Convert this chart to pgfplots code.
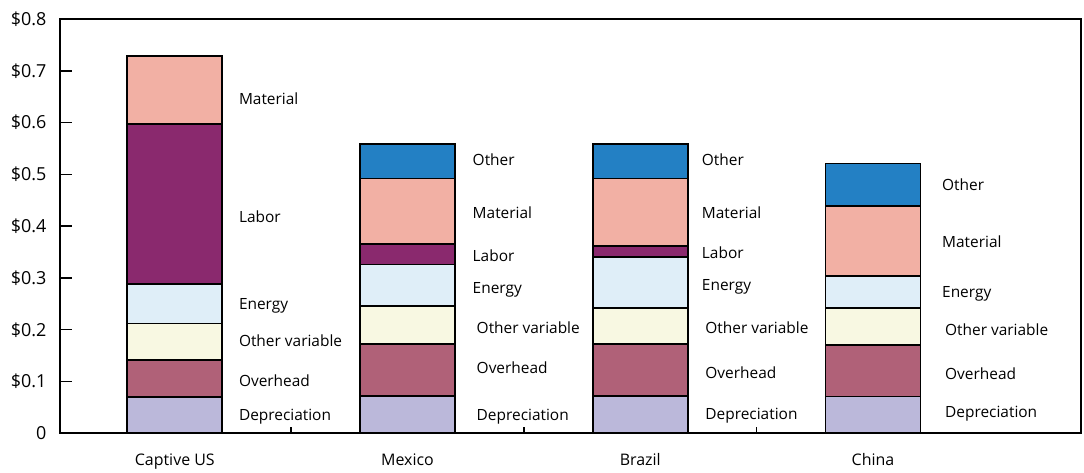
\documentclass[border=0pt]{standalone}
\usepackage{fontspec}
\setmainfont{Open Sans}
\usepackage{pgfplots}
\pgfplotsset{compat=1.18}

\definecolor{cdep}{HTML}{BBB8DA}
\definecolor{cover}{HTML}{B06178}
\definecolor{cvar}{HTML}{F8F8E2}
\definecolor{cenergy}{HTML}{DFEEF8}
\definecolor{clabor}{HTML}{8A296E}
\definecolor{cmat}{HTML}{F2B0A4}
\definecolor{cother}{HTML}{2380C4}

\tikzset{lbl/.style={anchor=west, inner sep=0pt, yshift=-2.5bp, font=\fontsize{15.5}{17}\selectfont}}

\begin{document}
\begin{tikzpicture}
  \begin{axis}[
    scale only axis,
    width=1021bp, height=414.3bp,
    ybar stacked, bar width=95bp,
    xmin=-0.4933, xmax=3.894,
    ymin=0, ymax=0.8,
    ytick={0,0.1,0.2,0.3,0.4,0.5,0.6,0.7,0.8},
    yticklabels={0,{\textdollar0.1},{\textdollar0.2},{\textdollar0.3},{\textdollar0.4},{\textdollar0.5},{\textdollar0.6},{\textdollar0.7},{\textdollar0.8}},
    yticklabel style={font=\fontsize{18}{20}\selectfont, xshift=-10bp},
    xtick={0,1,2,3},
    xticklabels={Captive US,Mexico,Brazil,China},
    xticklabel style={font=\fontsize{16}{18}\selectfont, yshift=-17bp},
    minor xtick={0.5,1.5,2.5},
    major x tick style={draw=none},
    tick align=inside, ytick pos=left, xtick pos=bottom,
    major tick length=12bp,
    minor tick length=6bp,
    tick style={black, line width=1.5pt},
    axis line style={line width=1.8pt},
    every axis plot/.append style={draw=black, line width=1.9pt},
    clip=false,
  ]
    % Depreciation, Overhead, Other variable, Energy, Labor, Material, Other
    \addplot[fill=cdep]    coordinates {(0,0.070) (1,0.072) (2,0.072) (3,0.071)};
    \addplot[fill=cover]   coordinates {(0,0.071) (1,0.100) (2,0.101) (3,0.099)};
    \addplot[fill=cvar]    coordinates {(0,0.071) (1,0.074) (2,0.069) (3,0.072)};
    \addplot[fill=cenergy] coordinates {(0,0.077) (1,0.080) (2,0.098) (3,0.062)};
    \addplot[fill=clabor]  coordinates {(0,0.309) (1,0.040) (2,0.021) (3,0.000)};
    \addplot[fill=cmat]    coordinates {(0,0.130) (1,0.126) (2,0.131) (3,0.135)};
    \addplot[fill=cother]  coordinates {(0,0.000) (1,0.067) (2,0.067) (3,0.082)};

    % Captive US
    \node[lbl, xshift=64bp] at (axis cs:0,0.651) {Material};
    \node[lbl, xshift=64bp] at (axis cs:0,0.4234) {Labor};
    \node[lbl, xshift=64bp] at (axis cs:0,0.2516) {Energy};
    \node[lbl, xshift=64bp] at (axis cs:0,0.184) {Other variable};
    \node[lbl, xshift=64bp] at (axis cs:0,0.1068) {Overhead};
    \node[lbl, xshift=64bp] at (axis cs:0,0.0373) {Depreciation};
    % Mexico
    \node[lbl, xshift=65bp] at (axis cs:1,0.534) {Other};
    \node[lbl, xshift=65bp] at (axis cs:1,0.4307) {Material};
    \node[lbl, xshift=65bp] at (axis cs:1,0.3476) {Labor};
    \node[lbl, xshift=65bp] at (axis cs:1,0.2819) {Energy};
    \node[lbl, xshift=69bp] at (axis cs:1,0.2091) {Other variable};
    \node[lbl, xshift=69bp] at (axis cs:1,0.1318) {Overhead};
    \node[lbl, xshift=69bp] at (axis cs:1,0.0367) {Depreciation};
    % Brazil
    \node[lbl, xshift=61.5bp] at (axis cs:2,0.534) {Other};
    \node[lbl, xshift=61.5bp] at (axis cs:2,0.4307) {Material};
    \node[lbl, xshift=61.5bp] at (axis cs:2,0.3540) {Labor};
    \node[lbl, xshift=61.5bp] at (axis cs:2,0.2883) {Energy};
    \node[lbl, xshift=65bp] at (axis cs:2,0.2091) {Other variable};
    \node[lbl, xshift=65bp] at (axis cs:2,0.1223) {Overhead};
    \node[lbl, xshift=65bp] at (axis cs:2,0.0392) {Depreciation};
    % China
    \node[lbl, xshift=69bp] at (axis cs:3,0.4858) {Other};
    \node[lbl, xshift=69bp] at (axis cs:3,0.3746) {Material};
    \node[lbl, xshift=69bp] at (axis cs:3,0.2734) {Energy};
    \node[lbl, xshift=72bp] at (axis cs:3,0.2058) {Other variable};
    \node[lbl, xshift=72bp] at (axis cs:3,0.119) {Overhead};
    \node[lbl, xshift=72bp] at (axis cs:3,0.0431) {Depreciation};
  \end{axis}
  \path (current axis.south west) ++(-60bp,-38.7bp) coordinate (bbA);
  \path (current axis.north east) ++(3bp,19bp) coordinate (bbB);
  \path (bbA) rectangle (bbB);
\end{tikzpicture}
\end{document}
